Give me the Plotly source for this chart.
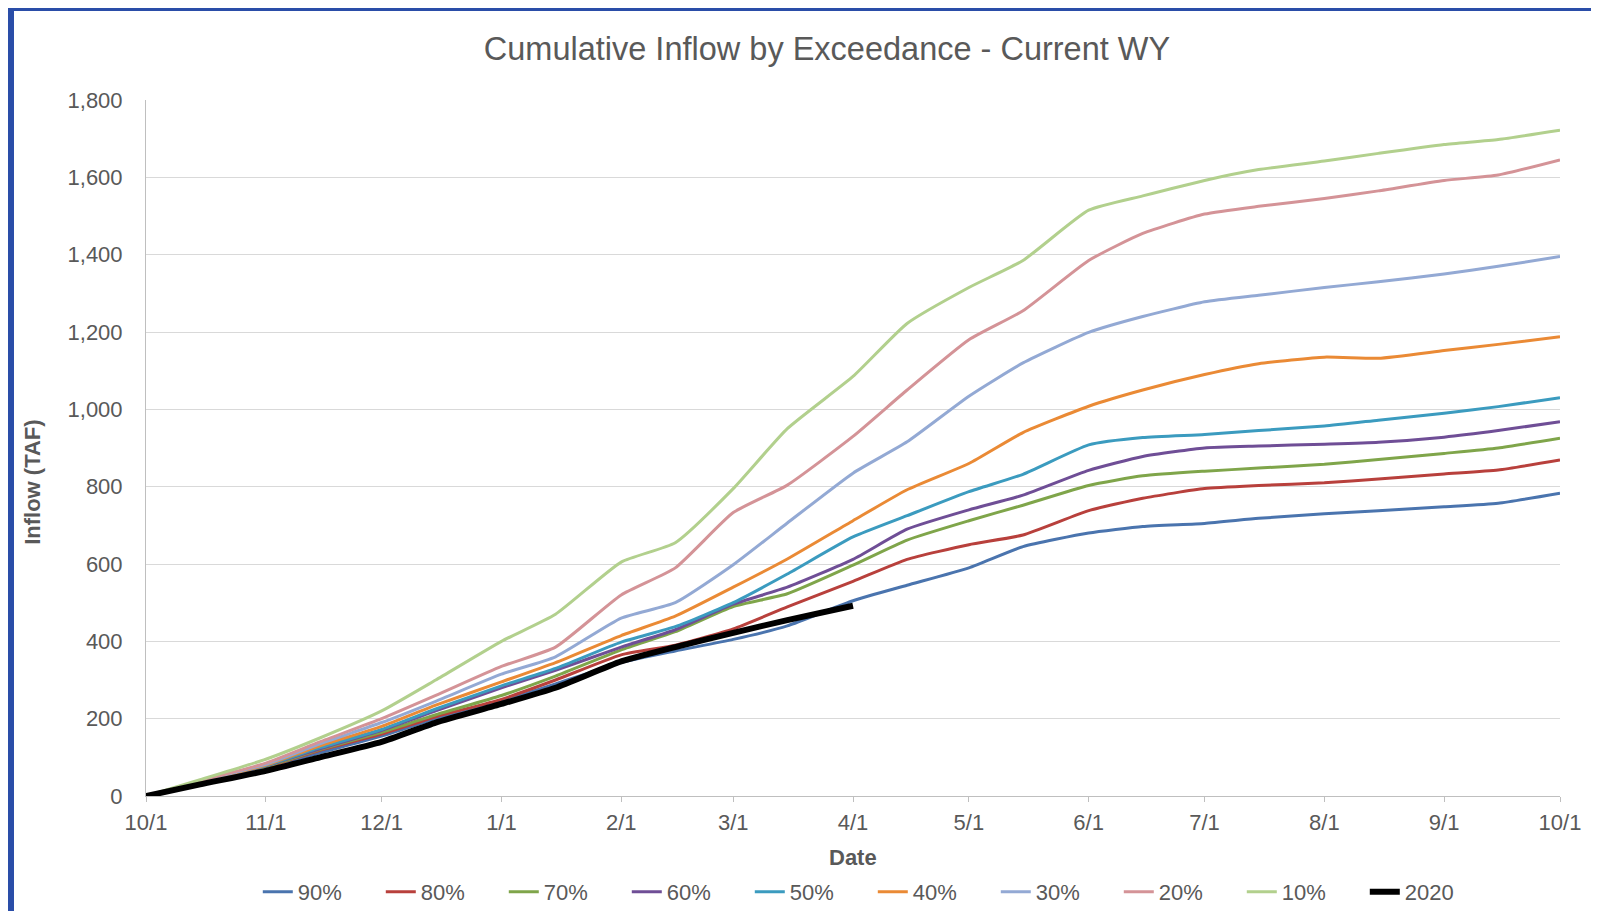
import plotly.graph_objects as go

DATES = [
    "2019-10-01", "2019-10-15", "2019-11-01", "2019-11-15", "2019-12-01", "2019-12-15",
    "2020-01-01", "2020-01-15", "2020-02-01", "2020-02-15", "2020-03-01", "2020-03-15",
    "2020-04-01", "2020-04-15", "2020-05-01", "2020-05-15", "2020-06-01", "2020-06-15",
    "2020-07-01", "2020-07-15", "2020-08-01", "2020-08-15", "2020-09-01", "2020-09-15",
    "2020-10-01",
]

P90 = [0, 33, 72, 112, 155, 200, 245, 290, 345, 375, 405, 440, 505, 545, 590, 645,
       680, 697, 705, 718, 730, 738, 748, 757, 783]
P80 = [0, 34, 74, 118, 160, 205, 250, 300, 365, 390, 432, 489, 555, 612, 650, 675,
       738, 770, 795, 803, 810, 820, 833, 843, 869]
P70 = [0, 35, 76, 120, 165, 210, 260, 310, 378, 425, 490, 523, 597, 662, 712, 752,
       803, 828, 840, 848, 858, 870, 886, 900, 925]
P60 = [0, 35, 78, 122, 170, 220, 280, 325, 385, 430, 496, 540, 612, 690, 740, 778,
       842, 878, 900, 905, 910, 915, 928, 945, 968]
P50 = [0, 36, 79, 125, 172, 225, 285, 330, 398, 438, 500, 574, 670, 725, 787, 832,
       908, 927, 935, 945, 957, 972, 990, 1007, 1030]
P40 = [0, 37, 80, 130, 180, 235, 295, 345, 415, 465, 540, 613, 712, 792, 860, 940,
       1008, 1050, 1090, 1118, 1135, 1132, 1152, 1168, 1188]
P30 = [0, 38, 82, 135, 190, 245, 315, 360, 460, 500, 598, 706, 835, 916, 1034, 1120,
       1199, 1240, 1278, 1295, 1315, 1330, 1350, 1370, 1395]
P20 = [0, 39, 85, 140, 200, 260, 335, 385, 520, 590, 733, 804, 930, 1050, 1180, 1255,
       1385, 1455, 1505, 1525, 1545, 1565, 1592, 1606, 1645]
P10 = [0, 42, 95, 150, 220, 300, 400, 470, 605, 655, 795, 950, 1085, 1222, 1315, 1385,
       1515, 1552, 1592, 1620, 1642, 1662, 1685, 1698, 1722]

DATES_2020 = DATES[:13]
WY2020 = [0, 30, 65, 100, 140, 190, 238, 280, 348, 385, 422, 455, 492]

SERIES = [
    ("90%", P90, "#4A74AE"),
    ("80%", P80, "#B8403C"),
    ("70%", P70, "#7FA54A"),
    ("60%", P60, "#6F4E96"),
    ("50%", P50, "#3B9BBF"),
    ("40%", P40, "#EA8A35"),
    ("30%", P30, "#93A9D4"),
    ("20%", P20, "#D49397"),
    ("10%", P10, "#B2D08D"),
]

FONT = "Arial, Liberation Sans, sans-serif"
GREY = "#595959"

fig = go.Figure()
for name, vals, color in SERIES:
    fig.add_trace(go.Scatter(x=DATES, y=vals, name=name, mode="lines",
                             line=dict(color=color, width=3, shape="spline", smoothing=0.5)))
fig.add_trace(go.Scatter(x=DATES_2020, y=WY2020, name="2020", mode="lines",
                         line=dict(color="#000000", width=6, shape="spline", smoothing=0.5)))

# screenshot frame (blue edge at top and left)
fig.add_shape(type="rect", xref="paper", yref="paper",
              x0=-138 / 1414, x1=-132 / 1414, y0=-115 / 696, y1=788 / 696,
              fillcolor="#2A4DA8", line_width=0, layer="above")
fig.add_shape(type="rect", xref="paper", yref="paper",
              x0=-138 / 1414, x1=1453 / 1414, y0=785 / 696, y1=788 / 696,
              fillcolor="#2A4DA8", line_width=0, layer="above")

# axis titles placed as annotations
fig.add_annotation(text="<b>Inflow (TAF)</b>", xref="paper", yref="paper",
                   x=-0.0799, y=0.45, textangle=-90, showarrow=False,
                   xanchor="center", yanchor="middle",
                   font=dict(family=FONT, size=22, color=GREY))
fig.add_annotation(text="<b>Date</b>", xref="paper", yref="paper",
                   x=0.5, y=-0.089, showarrow=False,
                   xanchor="center", yanchor="middle",
                   font=dict(family=FONT, size=22, color=GREY))

tick_font = dict(family=FONT, size=22, color=GREY)

fig.update_layout(
    width=1591,
    height=903,
    title=dict(text="Cumulative Inflow by Exceedance - Current WY",
               xref="paper", x=0.4816, xanchor="center", y=0.955, yanchor="middle",
               font=dict(family=FONT, size=32.5, color=GREY)),
    paper_bgcolor="white",
    plot_bgcolor="white",
    margin=dict(l=138, r=39, t=92, b=115, autoexpand=False),
    showlegend=True,
    legend=dict(orientation="h", x=0.514, xanchor="center", y=-0.138, yanchor="middle",
                font=dict(family=FONT, size=22, color=GREY),
                entrywidth=78, entrywidthmode="pixels"),
    xaxis=dict(
        range=["2019-10-01", "2020-10-01"],
        tick0="2019-10-01", dtick="M1", tickformat="%-m/%-d",
        showgrid=False, showline=True, linecolor="#BFBFBF", linewidth=1,
        ticks="outside", ticklen=5, tickcolor="#BFBFBF",
        tickfont=tick_font, ticklabelstandoff=2,
    ),
    yaxis=dict(
        range=[0, 1800], dtick=200, tickformat=",",
        showgrid=True, gridcolor="#D9D9D9", gridwidth=1,
        showline=True, linecolor="#BFBFBF", linewidth=1,
        zeroline=False, ticks="", tickfont=tick_font, ticklabelstandoff=18,
    ),
)

fig.write_html("out.html")
